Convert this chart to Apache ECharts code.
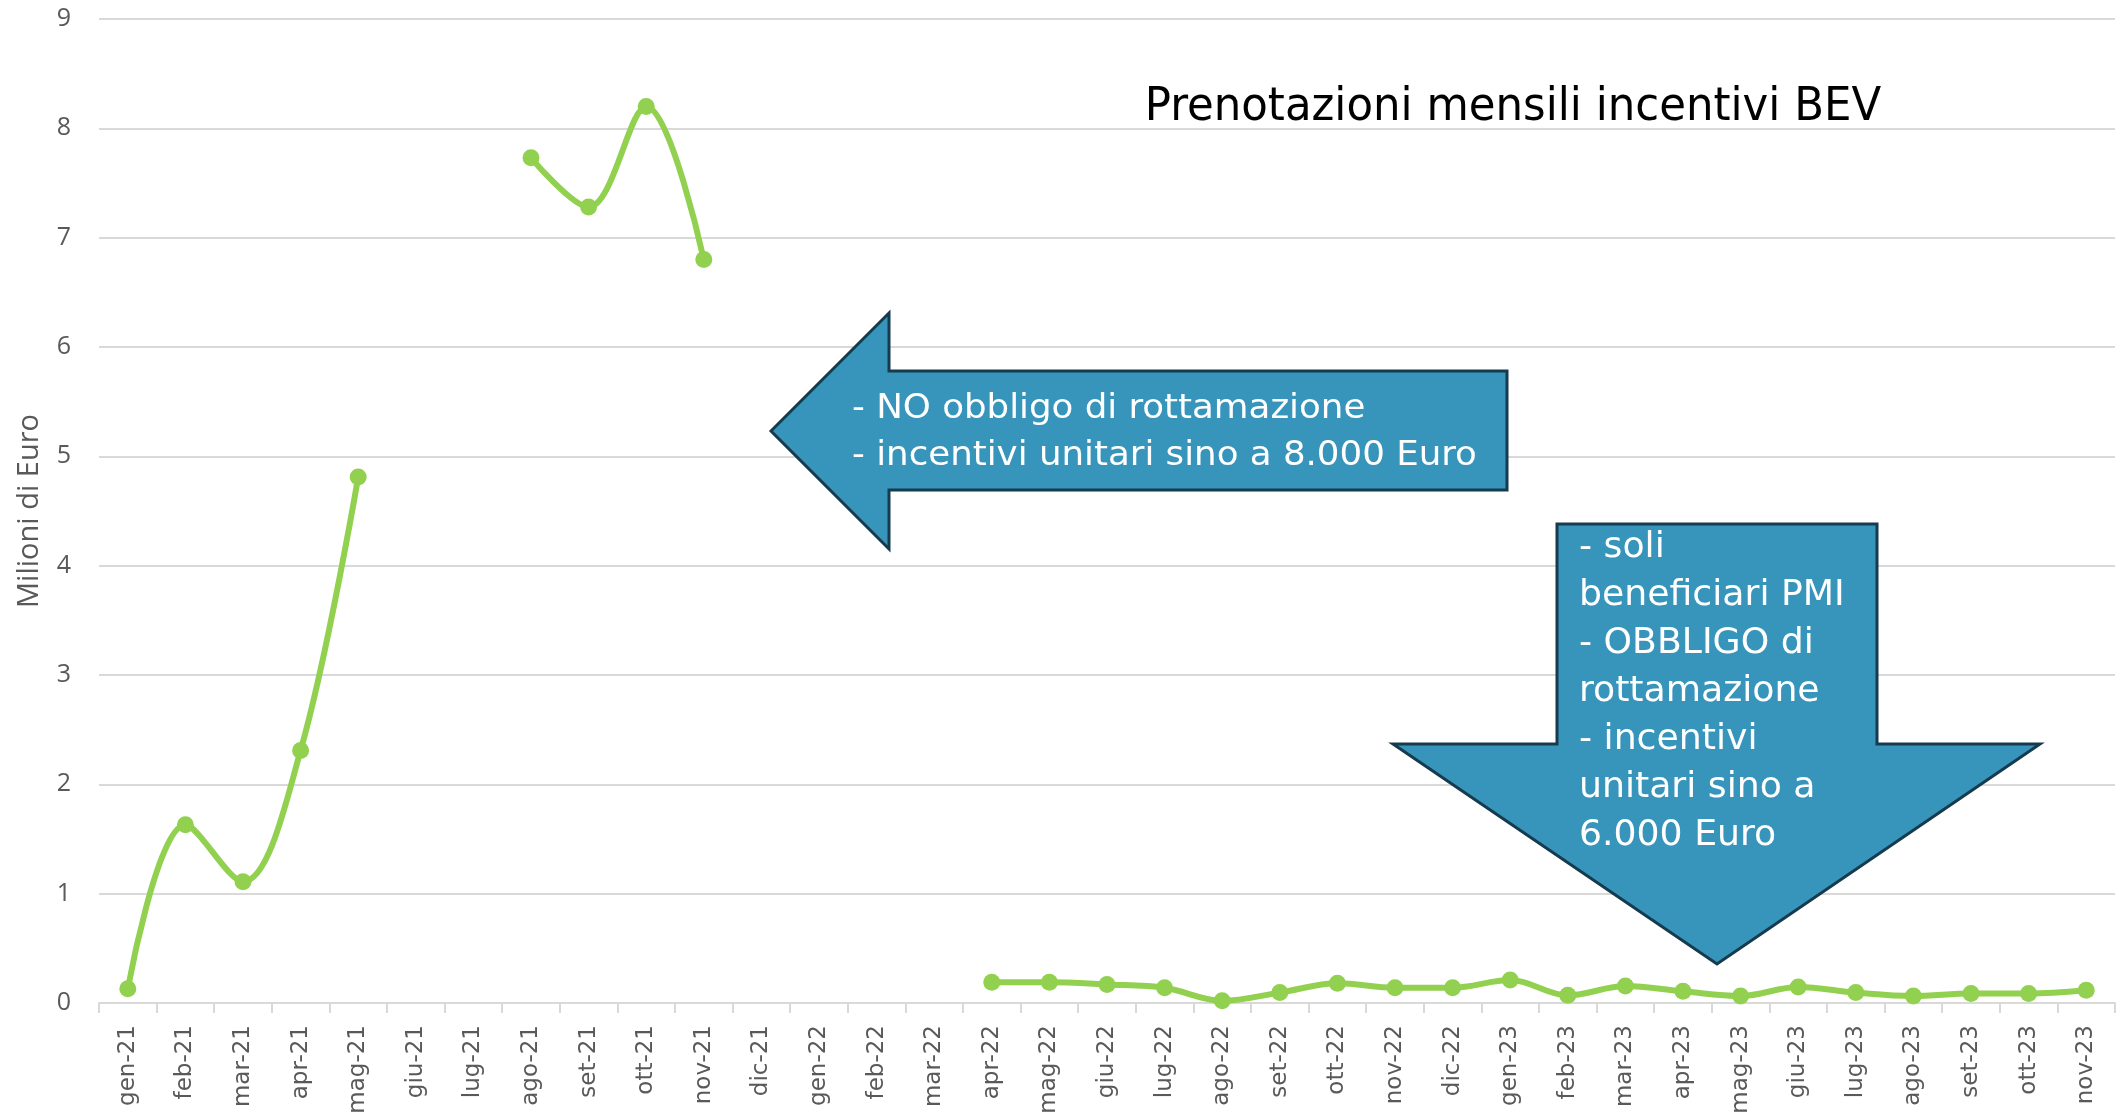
<!DOCTYPE html>
<html>
<head>
<meta charset="utf-8">
<script src="https://cdn.jsdelivr.net/npm/echarts@6/dist/echarts.min.js"></script>
<style>
html,body{margin:0;padding:0;background:#fff;}
#chart{width:2117px;height:1112px;}
</style>
</head>
<body>
<div id="chart"></div>
<script>
const categories = ['gen-21','feb-21','mar-21','apr-21','mag-21','giu-21','lug-21','ago-21','set-21','ott-21','nov-21','dic-21',
  'gen-22','feb-22','mar-22','apr-22','mag-22','giu-22','lug-22','ago-22','set-22','ott-22','nov-22','dic-22',
  'gen-23','feb-23','mar-23','apr-23','mag-23','giu-23','lug-23','ago-23','set-23','ott-23','nov-23'];
const prenotazioni = [0.13,1.63,1.11,2.31,4.81,null,null,7.73,7.28,8.20,6.80,null,
  null,null,null,0.19,0.19,0.17,0.14,0.02,0.095,0.18,0.14,0.14,
  0.21,0.07,0.155,0.107,0.064,0.147,0.095,0.064,0.086,0.086,0.116];
const yTicks = [0,1,2,3,4,5,6,7,8,9];
const chartTitle = 'Prenotazioni mensili incentivi BEV';
const yName = 'Milioni di Euro';
const leftNote = ['- NO obbligo di rottamazione', '- incentivi unitari sino a 8.000 Euro'];
const downNote = ['- soli', 'beneficiari PMI', '- OBBLIGO di', 'rottamazione', '- incentivi', 'unitari sino a', '6.000 Euro'];

const chart = echarts.init(document.getElementById('chart'), null, {renderer:'canvas'});
const noteFont = '"DejaVu Sans Condensed", "DejaVu Sans", sans-serif';
const arrowFill = '#3794BB';
const arrowStroke = '#163A4E';

const option = {
  animation: false,
  backgroundColor: '#fff',
  grid: {left: 99, right: 2, top: 19, bottom: 109, containLabel: false, outerBoundsMode: 'none'},
  xAxis: {
    type: 'category',
    data: categories,
    boundaryGap: true,
    axisLine: {show: true, lineStyle: {color: '#D9D9D9', width: 2}},
    axisTick: {show: true, length: 10, lineStyle: {color: '#D9D9D9', width: 2}},
    axisLabel: {
      rotate: 90, interval: 0, margin: 22,
      color: '#595959', fontSize: 23, fontFamily: '"DejaVu Sans", sans-serif'
    },
    splitLine: {show: false}
  },
  yAxis: {
    type: 'value',
    min: yTicks[0], max: yTicks[yTicks.length-1], interval: 1,
    name: yName, nameLocation: 'middle', nameRotate: 90, nameGap: 55,
    nameTextStyle: {color: '#595959', fontSize: 29, fontFamily: '"Open Sans", sans-serif'},
    axisLine: {show: false},
    axisTick: {show: false},
    axisLabel: {color: '#595959', fontSize: 25, margin: 28, fontFamily: '"Open Sans", sans-serif'},
    splitLine: {show: true, lineStyle: {color: '#D9D9D9', width: 2}}
  },
  series: [{
    type: 'line',
    data: prenotazioni,
    smooth: 0.35,
    connectNulls: false,
    symbol: 'circle',
    symbolSize: 17,
    lineStyle: {color: '#92D050', width: 6},
    itemStyle: {color: '#92D050'},
    z: 3
  }],
  graphic: [
    {
      type: 'text', z: 10, x: 1513, y: 131, scaleX: 1.05,
      style: {x: 0, y: 0, text: chartTitle, textAlign: 'center', textVerticalAlign: 'bottom',
        fontSize: 46, fontFamily: noteFont, fill: '#000'}
    },
    {
      type: 'polygon', z: 20,
      shape: {points: [[771,431],[889,313],[889,371],[1507,371],[1507,490],[889,490],[889,549]]},
      style: {fill: arrowFill, stroke: arrowStroke, lineWidth: 3, lineJoin: 'miter'}
    },
    {
      type: 'text', z: 21, x: 852, y: 386, scaleX: 1.2,
      style: {x: 0, y: 0, text: leftNote.join('\n'), lineHeight: 47, textAlign: 'left', textVerticalAlign: 'top',
        fontSize: 33, fontFamily: noteFont, fill: '#fff'}
    },
    {
      type: 'polygon', z: 20,
      shape: {points: [[1557,524],[1877,524],[1877,744],[2040,744],[1717,964],[1393,744],[1557,744]]},
      style: {fill: arrowFill, stroke: arrowStroke, lineWidth: 3, lineJoin: 'miter'}
    },
    {
      type: 'text', z: 21, x: 1579, y: 524, scaleX: 1.15,
      style: {x: 0, y: 0, text: downNote.join('\n'), lineHeight: 48, textAlign: 'left', textVerticalAlign: 'top',
        fontSize: 35, fontFamily: noteFont, fill: '#fff'}
    }
  ]
};
chart.setOption(option);
</script>
</body>
</html>
